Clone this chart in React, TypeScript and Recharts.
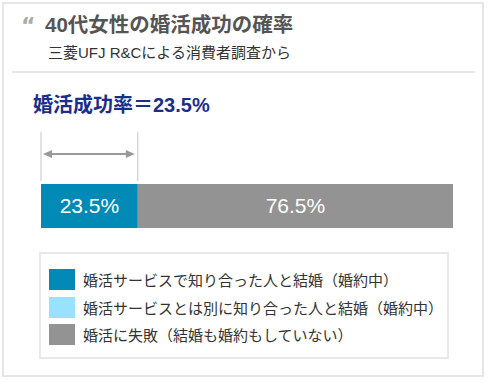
import React from 'react';
import { BarChart, Bar, XAxis, YAxis, ReferenceLine, LabelList } from 'recharts';

const rows = ['arrow', 'bar'];
const seriesKeys = ['service', 'other', 'fail'];
const seriesNames = [
    '婚活サービスで知り合った人と結婚（婚約中）',
    '婚活サービスとは別に知り合った人と結婚（婚約中）',
    '婚活に失敗（結婚も婚約もしていない）',
];
const seriesValues = [23.5, 0, 76.5];
const seriesColors = ['#008ab5', '#99e2ff', '#939393'];
const successRate = 23.5;

const chartData = rows.map((name) => {
    const row: any = { name };
    if (name === 'bar') {
        seriesKeys.forEach((k, i) => { row[k] = seriesValues[i]; });
    }
    return row;
});

const FONT = '"Liberation Sans", "Noto Sans CJK JP", sans-serif';

const ArrowShape = (props: any) => {
    const { x1, y1, x2, y2 } = props;
    if (x1 == null) return null;
    const a = x1 + 2;
    const b = x2 - 3;
    return (
        <g>
            <line x1={a + 4} y1={y1} x2={b - 4} y2={y2} stroke="#999" strokeWidth={2} />
            <polygon points={`${a},${y1} ${a + 9},${y1 - 4} ${a + 9},${y1 + 4}`} fill="#999" />
            <polygon points={`${b},${y2} ${b - 9},${y2 - 4} ${b - 9},${y2 + 4}`} fill="#999" />
        </g>
    );
};

const TickShape = (props: any) => {
    const { x1, y1, x2, y2 } = props;
    if (x1 == null) return null;
    return <line x1={x1} y1={y1 + 4} x2={x2} y2={y2 + 1} stroke="#c4c4c4" strokeWidth={1} />;
};

const App: React.FC = () => {
    return (
        <div style={{ position: 'absolute', left: 0, top: 0, width: 488, height: 383, background: '#fff', fontFamily: FONT }}>
            <div style={{ position: 'absolute', left: 2, top: 2, width: 482, height: 375, boxSizing: 'border-box', border: '2px solid #e6e6e6' }} />
            <div style={{ position: 'absolute', left: 21, top: 15, fontSize: 22, lineHeight: '22px', fontWeight: 'bold', color: '#aaa', fontFamily: '"DejaVu Sans", sans-serif' }}>“</div>
            <div style={{ position: 'absolute', left: 45, top: 15, fontSize: 20.5, lineHeight: '20px', fontWeight: 'bold', color: '#555' }}>40代女性の婚活成功の確率</div>
            <div style={{ position: 'absolute', left: 48, top: 45, fontSize: 15, lineHeight: '15px', color: '#333' }}>三菱UFJ R&Cによる消費者調査から</div>
            <div style={{ position: 'absolute', left: 12, top: 71, width: 463, height: 2, background: '#e6e6e6' }} />
            <div style={{ position: 'absolute', left: 33, top: 95, fontSize: 20, lineHeight: '20px', fontWeight: 'bold', color: '#1a2f8c' }}>
                婚活成功率＝{successRate}%
            </div>

            <div style={{ position: 'absolute', left: 0, top: 0 }}>
                <BarChart width={488} height={383} data={chartData} layout="vertical" barSize={44}
                    margin={{ top: 128, right: 35, left: 41, bottom: 151 }}>
                    <XAxis type="number" domain={[0, 100]} hide />
                    <YAxis type="category" dataKey="name" hide />
                    {seriesKeys.map((k, i) => (
                        <Bar key={k} dataKey={k} name={seriesNames[i]} stackId="a" fill={seriesColors[i]} isAnimationActive={false}>
                            {seriesValues[i] > 0 && (
                                <LabelList dataKey={k} position="center" fill="#fff" fontSize={21}
                                    fontFamily={'"Liberation Sans Narrow", "Liberation Sans", sans-serif'}
                                    formatter={(v: any) => (v == null ? '' : `${v}%`)} />
                            )}
                        </Bar>
                    ))}
                    <ReferenceLine segment={[{ x: 0, y: 'arrow' }, { x: 0, y: 'bar' }]} position="start" shape={TickShape} />
                    <ReferenceLine segment={[{ x: successRate, y: 'arrow' }, { x: successRate, y: 'bar' }]} position="start" shape={TickShape} />
                    <ReferenceLine segment={[{ x: 0, y: 'arrow' }, { x: successRate, y: 'arrow' }]} position="middle" shape={ArrowShape} />
                </BarChart>
            </div>

            <div style={{ position: 'absolute', left: 39, top: 252, width: 410, height: 107, boxSizing: 'border-box', border: '2px solid #e8e8e8', paddingTop: 15, paddingLeft: 8 }}>
                {seriesNames.map((n, i) => (
                    <div key={n} style={{ display: 'flex', alignItems: 'center', height: 21, marginBottom: 6.5 }}>
                        <div style={{ width: 26, height: 21, background: seriesColors[i], marginRight: 8 }} />
                        <span style={{ fontSize: 15, color: '#333', whiteSpace: 'nowrap' }}>{n}</span>
                    </div>
                ))}
            </div>
        </div>
    );
};

export default App;
